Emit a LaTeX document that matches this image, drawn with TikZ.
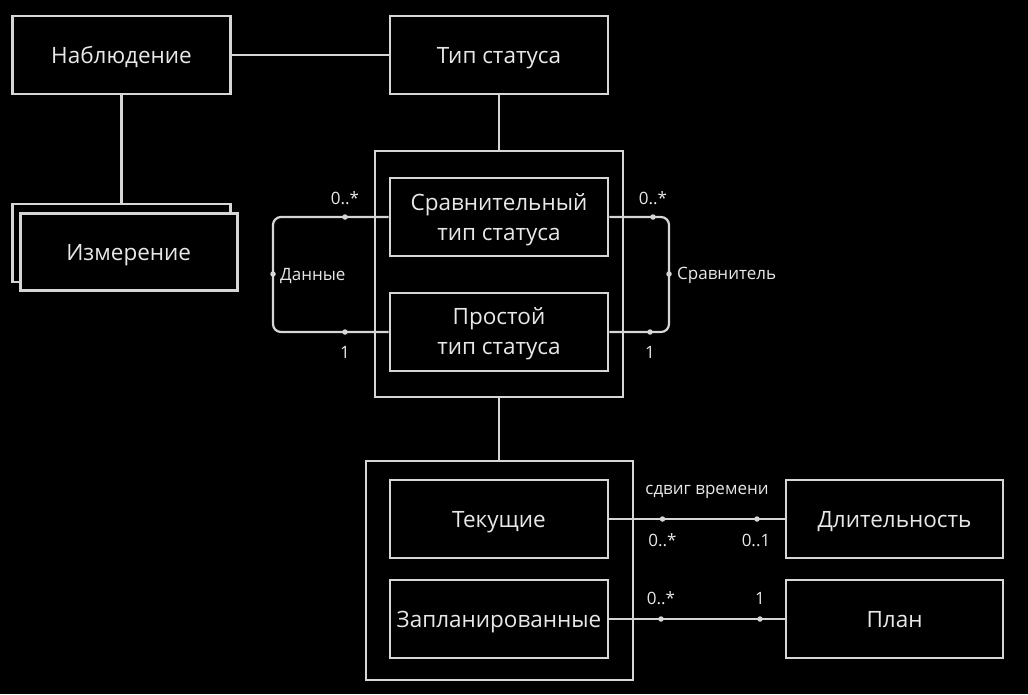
\documentclass[tikz,border=0pt]{standalone}
\usepackage{fontspec}
\setmainfont{Open Sans}
\definecolor{ln}{HTML}{D6D6D6}
\definecolor{tx}{HTML}{E8E8E8}
\begin{document}
\begin{tikzpicture}[x=1pt,y=-1pt,
  box/.style={draw=ln, line width=2.6pt, fill=black, inner sep=0pt,
    minimum width=218pt, minimum height=78pt},
  txt/.style={text=tx, inner sep=0pt, align=center, anchor=base,
    font=\fontsize{22.5}{30.5}\selectfont},
  frame/.style={draw=ln, line width=2.6pt, inner sep=0pt},
  conn/.style={draw=ln, line width=2.2pt},
  lbl/.style={text=tx, font=\fontsize{17}{20}\selectfont, inner sep=1pt},
  pt/.style={fill=ln, circle, inner sep=0pt, minimum size=5.5pt}
]
\fill[black] (0,0) rectangle (1028,694);
\useasboundingbox (0,0) rectangle (1028,694);

% outer frames
\node[frame, minimum width=248pt, minimum height=246pt] (o1) at (499,274) {};
\node[frame, minimum width=267pt, minimum height=219pt] (o2) at (499.5,570.5) {};

% boxes
\node[box] (nab) at (121.5,55) {};
\node[txt] (nabT) at (121.5,63) {Наблюдение};
\node[box] (tip) at (499,55) {};
\node[txt] (tipT) at (499,63) {Тип статуса};
\node[box, minimum width=218pt, minimum height=78pt] (izb) at (121.7,243) {};
\node[box, minimum width=217pt, minimum height=77.5pt] (izm) at (128.7,252) {};
\node[txt] (izmT) at (128.7,260) {Измерение};
\node[box] (srav) at (499,217) {};
\node[txt] (sravT) at (499,240.5) {Сравнительный\\тип статуса};
\node[box] (prost) at (499,332) {};
\node[txt] (prostT) at (499,354.5) {Простой\\тип статуса};
\node[box] (tek) at (499,519) {};
\node[txt] (tekT) at (499,527) {Текущие};
\node[box] (zap) at (499,619) {};
\node[txt] (zapT) at (499,627) {Запланированные};
\node[box, minimum width=217pt] (dlit) at (894.5,519) {};
\node[txt] (dlitT) at (894.5,527) {Длительность};
\node[box, minimum width=217pt] (plan) at (894.5,619) {};
\node[txt] (planT) at (894.5,627) {План};

% simple connectors
\draw[conn] (nab.east) -- (tip.west);
\draw[conn] (nab.south) -- (izb.north -| nab.south);
\draw[conn] (tip.south) -- (o1.north);
\draw[conn] (o1.south) -- (o2.north -| o1.south);

% Данные
\coordinate (dL) at (273,274);
\draw[conn, rounded corners=8pt] (srav.west) -| (dL) |- (prost.west);
\node[pt] (dLp) at (dL) {};
\node[lbl, anchor=west] (dLt) at (279,276) {Данные};
\node[pt] (d1) at (345,217) {};
\node[pt] (d2) at (345,332) {};
\node[lbl] (d1t) at (345,198) {0..*};
\node[lbl] (d2t) at (345,352) {1};

% Сравнитель
\coordinate (cR) at (669,274);
\draw[conn, rounded corners=8pt] (srav.east) -| (cR) |- (prost.east);
\node[pt] (cRp) at (cR) {};
\node[lbl, anchor=west] (cRt) at (676,275) {Сравнитель};
\node[pt] (c1) at (653,217) {};
\node[pt] (c2) at (650,332) {};
\node[lbl] (c1t) at (653,198) {0..*};
\node[lbl] (c2t) at (650,352) {1};

% Текущие - Длительность
\draw[conn] (tek.east) -- (dlit.west);
\node[pt] (t1) at (662.5,519) {};
\node[pt] (t2) at (757,519) {};
\node[lbl] (tt) at (707,492) {сдвиг времени};
\node[lbl] (t1t) at (662.5,540) {0..*};
\node[lbl] (t2t) at (756,540) {0..1};

% Запланированные - План
\draw[conn] (zap.east) -- (plan.west);
\node[pt] (z1) at (661,619) {};
\node[pt] (z2) at (760,619) {};
\node[lbl] (z1t) at (661,598) {0..*};
\node[lbl] (z2t) at (760,598) {1};
\end{tikzpicture}
\end{document}
